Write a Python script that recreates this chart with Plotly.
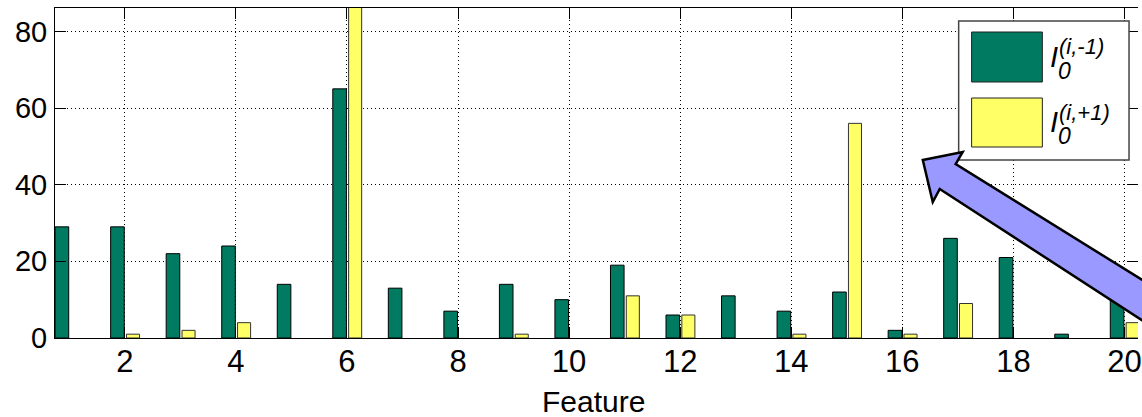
import plotly.graph_objects as go

features = list(range(1, 21))
i_minus = [29, 29, 22, 24, 14, 65, 13, 7, 14, 10, 19, 6, 11, 7, 12, 2, 26, 21, 1, 12]
i_plus = [0, 1, 2, 4, 0, 95, 0, 0, 1, 0, 11, 6, 0, 1, 56, 1, 9, 0, 0, 4]
x_ticks = list(range(2, 21, 2))
y_ticks = [0, 20, 40, 60, 80]

GREEN = "rgb(0,122,96)"
YELLOW = "rgb(255,255,102)"
FONT = "Liberation Sans, Arial, Helvetica, sans-serif"

W, H = 1142, 417
ML, MR, MT, MB = 55, 0, 8, 79
PW = W - ML - MR
PH = H - MT - MB


def px(x):
    return (x - ML) / PW


def py(y):
    return (H - MB - y) / PH


def nz(vals):
    # zero-height bars are not drawn in the original
    return [v if v else None for v in vals]


fig = go.Figure()
fig.add_trace(go.Bar(x=features, y=nz(i_minus), offset=-0.255, width=0.245,
                     marker=dict(color=GREEN, line=dict(color="black", width=1)),
                     showlegend=False))
fig.add_trace(go.Bar(x=features, y=nz(i_plus), offset=0.03, width=0.235,
                     marker=dict(color=YELLOW, line=dict(color="#333", width=1)),
                     showlegend=False))
# invisible trace for right-side mirrored ticks
fig.add_trace(go.Scatter(x=[None], y=[None], yaxis="y2", showlegend=False, hoverinfo="skip"))

shapes = []
# legend box
shapes.append(dict(type="rect", xref="paper", yref="paper",
                   x0=px(962), x1=px(1133), y0=py(160), y1=py(21),
                   fillcolor="white", line=dict(color="#444", width=1.5), layer="above"))
shapes.append(dict(type="rect", xref="paper", yref="paper",
                   x0=px(975), x1=px(1046), y0=py(82), y1=py(32),
                   fillcolor=GREEN, line=dict(color="#222", width=1), layer="above"))
shapes.append(dict(type="rect", xref="paper", yref="paper",
                   x0=px(975), x1=px(1046), y0=py(147), y1=py(98),
                   fillcolor=YELLOW, line=dict(color="#222", width=1), layer="above"))

# block arrow pointing to the legend
pts = [(926, 160), (966, 152), (959, 164), (1240, 338), (1220, 368), (943, 189), (936, 202)]
path = "M " + " L ".join(f"{px(a):.5f},{py(b):.5f}" for a, b in pts) + " Z"
shapes.append(dict(type="path", xref="paper", yref="paper", path=path,
                   fillcolor="rgb(153,153,255)", line=dict(color="black", width=2.5), layer="above"))

annotations = []
for dy, sup in [(0, "(i,-1)"), (65, "(i,+1)")]:
    annotations.append(dict(xref="paper", yref="paper", x=px(1052), y=py(57 + dy),
                            xanchor="left", yanchor="middle", showarrow=False,
                            text="<i>I</i>", font=dict(family=FONT, size=29, color="black")))
    annotations.append(dict(xref="paper", yref="paper", x=px(1061), y=py(47 + dy),
                            xanchor="left", yanchor="middle", showarrow=False,
                            text=f"<i>{sup}</i>", font=dict(family=FONT, size=22, color="black")))
    annotations.append(dict(xref="paper", yref="paper", x=px(1060), y=py(71 + dy),
                            xanchor="left", yanchor="middle", showarrow=False,
                            text="<i>0</i>", font=dict(family=FONT, size=23, color="black")))

# x-axis title
annotations.append(dict(xref="paper", yref="paper", x=px(595), y=py(401),
                        xanchor="center", yanchor="middle", showarrow=False,
                        text="Feature", font=dict(family=FONT, size=30, color="black")))

fig.update_layout(
    width=W, height=H,
    margin=dict(l=ML, r=MR, t=MT, b=MB, pad=0),
    paper_bgcolor="white", plot_bgcolor="white",
    barmode="overlay",
    font=dict(family=FONT, color="black"),
    shapes=shapes, annotations=annotations,
    xaxis=dict(range=[0.743, 20.244], tickvals=x_ticks, ticks="inside", ticklen=11,
               tickcolor="black", showline=True, linecolor="black", linewidth=1, mirror="ticks",
               showgrid=True, gridcolor="black", gridwidth=1, griddash="1px,3px",
               zeroline=False, tickfont=dict(size=31), ticklabelstandoff=-4,
               ticklabeloverflow="allow"),
    yaxis=dict(range=[0, 86.1], tickvals=y_ticks, ticks="inside", ticklen=11,
               tickcolor="black", showline=True, linecolor="black", linewidth=1, mirror=False,
               showgrid=True, gridcolor="black", gridwidth=1, griddash="1px,3px",
               zeroline=False, tickfont=dict(size=29), ticklabelstandoff=1),
    yaxis2=dict(range=[0, 86.1], tickvals=y_ticks, overlaying="y", side="right",
                ticks="inside", ticklen=11, tickcolor="black", showline=False,
                showgrid=False, showticklabels=False, zeroline=False),
)

fig.write_html("out.html")
